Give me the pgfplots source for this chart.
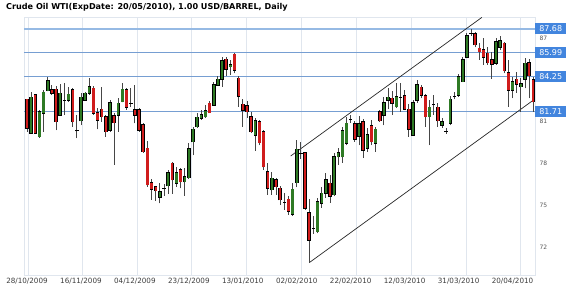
\documentclass[border=0pt]{standalone}
\usepackage{pgfplots}
\pgfplotsset{compat=1.18}
\usepackage{pgfplotstable}
\usepackage{fontspec}
\setmainfont{DejaVu Sans}
\definecolor{upc}{RGB}{46,122,36}
\definecolor{dnc}{RGB}{208,28,28}
\definecolor{lvl}{RGB}{118,158,210}
\definecolor{lvltop}{RGB}{150,186,228}
\definecolor{lblbg}{RGB}{66,133,222}
\definecolor{gridc}{RGB}{224,230,238}
\definecolor{wick}{RGB}{70,70,70}
\definecolor{xlab}{RGB}{60,60,60}
\definecolor{ylab}{RGB}{85,85,85}

% x = trading day index, o h l c
\pgfplotstableread{
x o h l c
1 80.17 83.16 80.12 82.76
3 79.92 81.84 79.83 81.72
4 81.60 83.28 80.28 83.12
5 83.23 84.24 83.20 83.95
8 81.48 83.71 81.41 83.04
10 82.56 83.50 82.42 82.97
13 81.07 83.04 80.76 82.76
14 82.56 83.16 82.49 83.04
15 83.04 84.12 82.92 83.52
20 80.40 82.56 80.28 82.37
22 81.48 82.68 80.28 82.32
23 82.44 83.76 82.38 83.33
32 75.56 76.57 75.13 75.96
34 76.39 77.53 75.80 77.33
36 76.57 77.76 76.32 77.33
38 76.68 77.65 75.68 77.04
39 76.97 79.45 76.90 79.04
40 79.56 80.64 78.60 80.45
41 80.64 81.63 80.55 81.32
42 81.24 81.84 81.12 81.48
43 81.34 82.20 81.27 81.79
45 82.18 83.86 82.13 83.64
46 83.64 84.29 83.57 84.05
47 84.05 85.65 83.52 85.39
49 84.96 85.44 84.36 85.08
55 80.04 81.27 78.89 81.05
59 76.09 77.38 75.73 76.93
64 74.36 76.59 74.22 76.14
65 76.61 79.68 76.30 79.01
70 73.09 75.51 72.99 75.24
71 75.13 76.30 74.79 75.85
72 75.85 77.31 75.51 76.81
74 75.73 78.75 75.65 78.48
75 78.48 79.11 77.89 78.77
76 78.48 80.62 78.03 80.35
77 79.45 81.34 79.32 80.88
80 79.97 81.41 79.32 80.83
82 79.09 80.55 78.82 80.04
84 79.45 80.62 78.82 80.45
86 81.48 82.78 80.76 82.37
87 82.56 83.42 81.91 82.76
89 82.08 83.78 82.01 82.80
93 80.04 82.56 79.97 82.37
94 82.56 84.00 82.35 83.64
97 81.36 82.56 79.32 82.04
100 80.76 81.27 80.55 81.00
102 80.88 82.85 80.76 82.61
104 82.92 84.43 82.78 84.24
105 83.88 85.65 83.86 85.44
106 85.63 87.38 85.58 87.17
113 85.20 87.02 85.08 86.76
114 86.35 87.17 86.16 86.83
117 83.28 84.24 82.70 83.88
119 83.50 84.14 81.70 83.71
120 84.05 85.58 83.40 85.20
}\uptab

\pgfplotstableread{
x o h l c
0 82.61 82.63 80.28 80.53
2 82.92 82.99 80.12 80.17
6 83.28 83.64 82.92 83.04
7 83.33 83.57 80.40 81.00
11 83.28 83.42 80.64 81.00
16 83.40 83.57 81.48 81.60
17 81.65 81.96 80.45 81.12
18 81.89 83.52 81.00 81.36
19 81.36 81.48 79.92 80.28
21 81.41 81.63 77.89 80.93
24 83.28 83.42 81.84 82.04
26 81.84 83.64 80.88 81.48
27 81.84 81.99 80.28 80.40
28 80.76 80.91 78.75 78.84
29 79.09 79.61 76.32 76.45
30 76.61 76.86 75.37 76.14
31 76.32 76.37 75.32 76.04
35 78.01 78.10 75.80 76.81
37 77.53 77.67 76.21 76.68
44 82.32 82.49 81.63 81.65
48 85.49 85.68 84.29 84.77
50 85.85 85.92 84.48 84.72
51 84.12 84.29 82.08 82.85
52 82.25 82.63 80.64 81.84
53 82.13 82.49 81.27 81.72
54 81.36 81.70 80.19 80.28
56 81.00 81.12 79.32 79.49
57 80.28 80.40 77.53 77.76
58 77.40 78.03 75.73 76.21
60 76.81 76.95 75.73 76.32
61 76.21 76.37 75.01 75.37
63 75.42 75.65 74.29 74.54
67 78.77 78.82 74.65 74.77
68 74.45 75.44 70.86 72.49
73 76.57 77.17 75.15 75.65
79 80.83 81.05 79.54 79.73
81 81.00 81.20 78.39 78.96
83 80.69 81.12 79.32 79.56
85 81.72 81.84 80.98 81.07
88 82.68 83.21 81.48 82.32
91 82.85 83.28 81.84 81.89
92 81.89 82.27 79.90 80.45
95 83.47 83.64 82.70 82.92
96 82.85 82.99 80.62 81.36
99 82.04 82.35 80.62 81.07
108 87.31 87.45 86.37 86.52
109 86.28 86.66 85.44 86.04
110 86.16 87.02 85.08 85.65
111 85.92 86.37 85.08 85.24
112 85.44 86.01 84.07 85.15
115 86.64 86.73 84.50 84.67
116 84.50 85.44 82.08 83.28
118 84.05 84.57 83.09 83.71
121 85.24 85.50 82.70 84.29
122 84.00 84.24 81.71 82.44
}\dntab

\pgfplotstableread{
x o h l c
9 82.53 83.81 81.48 82.53
12 80.33 81.48 79.81 80.33
25 82.34 83.40 82.06 82.34
33 76.18 76.52 75.68 76.18
62 75.21 75.87 74.65 75.21
66 78.70 79.54 78.32 78.70
69 73.30 74.22 72.92 73.30
78 81.14 81.48 80.91 81.14
90 82.77 83.78 81.70 82.77
98 82.22 82.92 81.48 82.22
101 80.28 80.55 80.12 80.28
103 82.82 83.14 82.63 82.82
107 87.37 87.68 87.17 87.37
}\djtab

\pgfplotsset{
  nomk/.style={only marks, mark=*, mark size=0pt, mark options={draw=none, fill=none}, forget plot},
  wicks/.style={nomk,
    error bars/.cd, y dir=plus, y explicit, error mark=none,
    error bar style={draw=wick, line width=0.9pt}},
  bodyout/.style={nomk,
    error bars/.cd, y dir=plus, y explicit, error mark=none,
    error bar style={draw=black, line width=3.5pt}},
  bodyin/.style={nomk,
    error bars/.cd, y dir=plus, y explicit, error mark=none,
    error bar style={draw=#1, line width=2.3pt}},
}
\tikzset{
  lvllabel/.style={fill=lblbg, text=white, anchor=west, minimum width=31pt, minimum height=11pt, inner sep=0pt,
        font=\fontsize{8}{8}\selectfont},
}

\begin{document}
\begin{tikzpicture}
\path[use as bounding box] (0,0) rectangle (570pt,296pt);
\node[anchor=base west, inner sep=0pt, font=\bfseries\fontsize{8.1}{9}\selectfont] at (6pt,286.3pt)
  {Crude Oil WTI(ExpDate: 20/05/2010), 1.00 USD/BARREL, Daily};
\begin{axis}[
  at={(24pt,21pt)}, anchor=south west,
  scale only axis, width=511pt, height=258pt,
  xmin=-0.723, xmax=122.41, ymin=69.97, ymax=88.53,
  clip mode=individual,
  axis line style={draw=gridc, line width=0.8pt},
  tick style={draw=none},
  xtick={0,13,26,39,52,65,78,91,104,117},
  xticklabels={28/10/2009,16/11/2009,04/12/2009,23/12/2009,13/01/2010,02/02/2010,22/02/2010,12/03/2010,31/03/2010,20/04/2010},
  xticklabel style={font=\fontsize{7.2}{8}\selectfont, text=xlab},
  extra x ticks={0.31,13.42,26.58,39.69,52.94,66.02,79.28,92.53,105.78,118.92},
  extra x tick labels={},
  extra x tick style={grid=major},
  major grid style={draw=gridc, line width=0.8pt},
  ytick={72,75,78,81,87},
  yticklabel pos=right,
  yticklabel style={font=\fontsize{6}{7}\selectfont, text=ylab, anchor=west, xshift=1pt},
  /pgf/number format/assume math mode=true,
]
% support / resistance levels
\addplot[lvltop, line width=1.6pt, forget plot] coordinates {(-0.723,87.68) (122.41,87.68)};
\addplot[lvl, line width=1pt, forget plot] coordinates {(-0.723,85.99) (122.41,85.99)};
\addplot[lvl, line width=1pt, forget plot] coordinates {(-0.723,84.25) (122.41,84.25)};
\addplot[lvl, line width=1pt, forget plot] coordinates {(-0.723,81.71) (122.41,81.71)};
% channel
\addplot[black!85, line width=0.7pt, forget plot] coordinates {(63.54,78.53) (109.6,88.50)};
\addplot[black!85, line width=0.7pt, forget plot] coordinates {(68.02,70.86) (122.2,82.59)};
% wicks
\addplot[wicks] table[x=x, y=l, y error expr=\thisrow{h}-\thisrow{l}] {\uptab};
\addplot[wicks] table[x=x, y=l, y error expr=\thisrow{h}-\thisrow{l}] {\dntab};
\addplot[wicks] table[x=x, y=l, y error expr=\thisrow{h}-\thisrow{l}] {\djtab};
% bodies
\addplot[bodyout] table[x=x, y expr=\thisrow{o}-0.04, y error expr=\thisrow{c}-\thisrow{o}+0.08] {\uptab};
\addplot[bodyin=upc] table[x=x, y=o, y error expr=\thisrow{c}-\thisrow{o}] {\uptab};
\addplot[bodyout] table[x=x, y expr=\thisrow{c}-0.04, y error expr=\thisrow{o}-\thisrow{c}+0.08] {\dntab};
\addplot[bodyin=dnc] table[x=x, y=c, y error expr=\thisrow{o}-\thisrow{c}] {\dntab};
\addplot[bodyout] table[x=x, y expr=\thisrow{o}-0.035, y error expr=0.07] {\djtab};
% level labels
\node[lvllabel] at (axis cs:122.41,87.68) {87.68};
\node[lvllabel] at (axis cs:122.41,85.99) {85.99};
\node[lvllabel] at (axis cs:122.41,84.25) {84.25};
\node[lvllabel] at (axis cs:122.41,81.71) {81.71};
\end{axis}
\end{tikzpicture}
\end{document}
